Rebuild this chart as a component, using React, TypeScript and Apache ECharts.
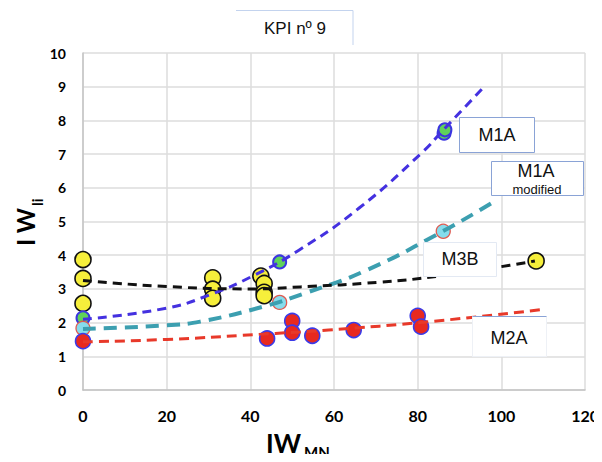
import React, { useEffect, useRef } from "react";
import * as echarts from "echarts";

const xTicks = { min: 0, max: 120, interval: 20 };
const yTicks = { min: 0, max: 10, interval: 1 };

const yellowPts = [
  [0, 3.87], [0, 3.31], [0, 2.57],
  [31, 3.33], [31, 2.99], [31, 2.72],
  [42.5, 3.38], [43.3, 3.16], [43.3, 2.9], [43.3, 2.8],
  [108.3, 3.83],
];
const greenPts = [[0, 2.14], [47, 3.8], [86.3, 7.62], [86.5, 7.72]];
const cyanPts = [[0, 1.83], [47, 2.6], [86.1, 4.71]];
const redPts = [
  [0, 1.45], [44, 1.53], [50, 2.05], [50, 1.7],
  [54.8, 1.61], [64.7, 1.78], [80, 2.2], [80.8, 1.88],
];

const m1aTrend = [[0, 2.1], [20, 2.43], [31, 2.86], [40.5, 3.38], [51.6, 4.15], [66, 5.4], [80.9, 7.03], [86, 7.7], [95.5, 8.95]];
const m1aModTrend = [[0, 1.81], [20, 1.92], [28, 2.03], [43, 2.47], [53, 2.87], [67.5, 3.54], [86, 4.71], [99, 5.65]];
const m3bTrend = [[0, 3.25], [20, 3.07], [40, 3.0], [52, 3.06], [71, 3.2], [85, 3.38], [102, 3.7], [108, 3.83]];
const m2aTrend = [[0, 1.43], [20, 1.5], [46, 1.68], [58.7, 1.78], [83, 2.03], [110, 2.39]];

const labelFont = "Lato, 'Open Sans', sans-serif";
const boxFont = "'Liberation Sans', Arial, sans-serif";

export default function App() {
  const ref = useRef<HTMLDivElement>(null);
  useEffect(() => {
    if (!ref.current) return;
    const chart = echarts.init(ref.current, undefined, { renderer: "svg" });
    const trend = (data: number[][], color: string, width: number, dash: number[]) => ({
      type: "line",
      data,
      smooth: true,
      showSymbol: false,
      symbol: "none",
      z: 5,
      lineStyle: { color, width, type: dash },
      silent: true,
    });
    const scatter = (data: number[][], fill: string, border: string, bw: number, size: number, z: number) => ({
      type: "scatter",
      data,
      symbolSize: size,
      z,
      itemStyle: { color: fill, borderColor: border, borderWidth: bw, opacity: 1 },
    });
    const box = (x: number, y: number, w: number, h: number, stroke: string) => ({
      type: "rect",
      z: 20,
      shape: { x, y, width: w, height: h },
      style: { fill: "#ffffff", stroke, lineWidth: 1 },
    });
    const txt = (x: number, y: number, text: string, size: number, extra: any = {}) => ({
      type: "text",
      z: 21,
      x,
      y,
      style: {
        text,
        fill: "#111",
        font: `${size}px ${boxFont}`,
        align: "center",
        verticalAlign: "middle",
        ...extra,
      },
    });
    chart.setOption({
      animation: false,
      backgroundColor: "#ffffff",
      grid: { left: 83, right: 15, top: 53, bottom: 72 },
      xAxis: {
        type: "value",
        ...xTicks,
        axisLine: { show: true, lineStyle: { color: "#c4c4c4", width: 1.5 } },
        axisTick: { show: false },
        splitLine: { show: true, lineStyle: { color: "#dcdcdc", width: 1.5 } },
        axisLabel: { color: "#000", fontWeight: "bold", fontSize: 16, fontFamily: labelFont, margin: 17 },
      },
      yAxis: {
        type: "value",
        ...yTicks,
        axisLine: { show: true, lineStyle: { color: "#c4c4c4", width: 1.5 } },
        axisTick: { show: false },
        splitLine: { show: true, lineStyle: { color: "#dcdcdc", width: 1.5 } },
        axisLabel: { color: "#000", fontWeight: "bold", fontSize: 14, fontFamily: labelFont, margin: 17 },
      },
      series: [
        scatter(yellowPts, "#f6ef3b", "#111111", 1.6, 16, 3),
        scatter(greenPts, "#5fd35a", "#3b35e0", 2, 13, 3),
        scatter(cyanPts, "#86dcec", "#e05a50", 1.3, 14, 4),
        scatter(redPts, "#e8291f", "#3b3be8", 1.6, 15, 4),
        trend(m1aTrend, "#4431e0", 3, [9, 6]),
        trend(m1aModTrend, "#3c9fb0", 4, [13, 8]),
        trend(m3bTrend, "#111111", 3, [9, 6]),
        trend(m2aTrend, "#e8392a", 3, [10, 6]),
      ],
      graphic: [
        {
          type: "polyline",
          z: 20,
          shape: { points: [[236, 10.5], [353, 10.5], [353, 45]] },
          style: { fill: "none", stroke: "#c3d3ee", lineWidth: 1 },
        },
        txt(295, 28, "KPI nº 9", 17),
        box(459.5, 117.5, 75, 35, "#8aa3d6"),
        txt(497, 135, "M1A", 18),
        box(491.5, 161.5, 92, 34, "#8aa3d6"),
        txt(536, 171, "M1A", 18),
        txt(537, 189, "modified", 13),
        box(423.5, 242.5, 73, 34, "#e3e9f3"),
        txt(460, 259, "M3B", 18),
        box(472.5, 316.5, 74, 40, "#eef1f6"),
        {
          type: "line",
          z: 22,
          shape: { x1: 472.5, y1: 316.5, x2: 546.5, y2: 316.5 },
          style: { stroke: "#8aa3d6", lineWidth: 1 },
        },
        txt(509, 338, "M2A", 18),
        {
          type: "text",
          z: 21,
          x: 266,
          y: 443,
          style: {
            text: "IW",
            fill: "#000",
            font: `bold 26px ${labelFont}`,
            align: "left",
            verticalAlign: "middle",
          },
        },
        {
          type: "text",
          z: 21,
          x: 304,
          y: 452,
          style: {
            text: "MN",
            fill: "#000",
            font: `bold 15px ${labelFont}`,
            align: "left",
            verticalAlign: "middle",
          },
        },
        {
          type: "group",
          x: 25,
          y: 246,
          rotation: Math.PI / 2,
          children: [
            {
              type: "text",
              x: 0,
              y: 0,
              style: {
                text: "I W",
                fill: "#000",
                font: `bold 24px ${labelFont}`,
                align: "left",
                verticalAlign: "middle",
              },
            },
            {
              type: "text",
              x: 40,
              y: 12,
              style: {
                text: "li",
                fill: "#000",
                font: `bold 15px ${labelFont}`,
                align: "left",
                verticalAlign: "middle",
              },
            },
          ],
        },
      ],
    });
    return () => chart.dispose();
  }, []);
  return <div ref={ref} style={{ width: 602, height: 462, margin: -8 }} />;
}
